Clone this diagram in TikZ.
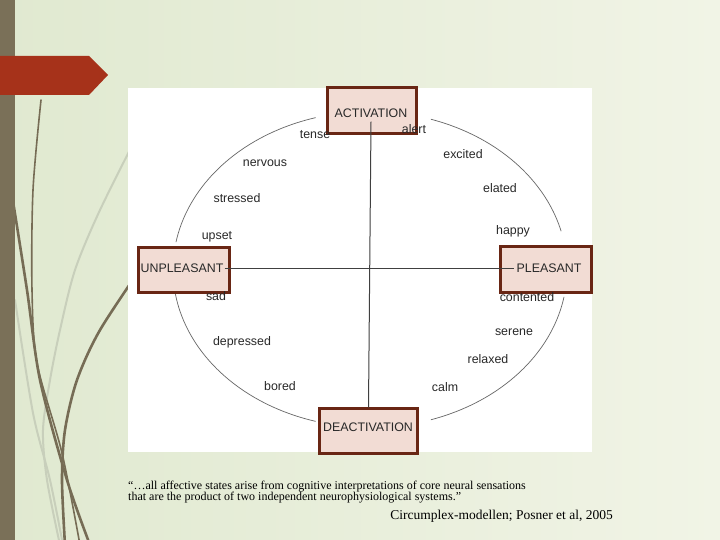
\documentclass[tikz,border=0pt]{standalone}
\usepackage{fontspec}
\setmainfont{Liberation Serif}
\setsansfont{Liberation Sans}
\definecolor{bgL}{RGB}{224,233,208}
\definecolor{bgR}{RGB}{241,244,230}
\definecolor{barc}{RGB}{122,112,88}
\definecolor{bannerc}{RGB}{166,50,26}
\definecolor{grass}{RGB}{118,108,85}
\definecolor{grasslight}{RGB}{200,207,187}
\definecolor{boxfill}{RGB}{242,220,212}
\definecolor{boxline}{RGB}{105,38,20}
\definecolor{txt}{RGB}{40,40,40}
\begin{document}
\begin{tikzpicture}[x=1pt,y=-1pt,
  catbox/.style={draw=boxline,line width=2.1pt,fill=boxfill,inner sep=0pt},
  mood/.style={font=\sffamily\fontsize{12.4}{14}\selectfont,text=txt,inner sep=0pt},
  axisline/.style={draw=black!75,line width=1pt},
  circ/.style={draw=black!60,line width=0.7pt},
  grassline/.style={draw=grass,line width=#1,line cap=round},
  grasssoft/.style={draw=grasslight,line width=#1,line cap=round},
  quote/.style={font=\fontsize{12}{13}\selectfont,text=black,inner sep=0pt,anchor=base west},
]
\useasboundingbox (0,0) rectangle (720,540);
\shade[left color=bgL,right color=bgR] (0,0) rectangle (720,540);
% decorative grass
\draw[grasssoft=2pt] plot[smooth] coordinates {(140,130) (100,210) (75,270) (60,330) (50,380) (43,430) (47,480) (60,545)};
\draw[grasssoft=2pt] plot[smooth] coordinates {(15,300) (33,413) (50,480) (63,545)};
\draw[grassline=1.6pt] plot[smooth] coordinates {(41,100) (33,190) (32,290) (37,363) (62,453) (80,545)};
\draw[grassline=2.6pt] plot[smooth] coordinates {(12,195) (27,290) (40,380) (67,480) (90,545)};
\draw[grassline=2.6pt] plot[smooth] coordinates {(145,262) (100,330) (77,380) (65,430) (62,480) (65,545)};
% left bar and banner
\fill[barc] (0,0) rectangle (15,540);
\fill[bannerc] (0,56) -- (89,56) -- (108,75) -- (89,95) -- (0,95) -- cycle;
% picture area
\fill[white] (128,88) rectangle (592,452);
% circumplex
\draw[circ] plot[domain=106:170,samples=40] ({370+197*cos(\x)},{269.5-158*sin(\x)});
\draw[circ] plot[domain=189:254,samples=40] ({370+197*cos(\x)},{269.5-158*sin(\x)});
\draw[circ] plot[domain=14:72,samples=40] ({370+197*cos(\x)},{269.5-158*sin(\x)});
\draw[circ] plot[domain=-72:-10,samples=40] ({370+197*cos(\x)},{269.5-158*sin(\x)});
% boxes
\node[catbox,minimum width=89pt,minimum height=46pt] (act) at (372,110.5) {};
\node[catbox,minimum width=91pt,minimum height=45pt] (unp) at (184,270) {};
\node[catbox,minimum width=91pt,minimum height=46pt] (pls) at (546,269.5) {};
\node[catbox,minimum width=98pt,minimum height=45pt] (dea) at (368.5,431) {};
% box labels
\node[mood] (actl) at (371,113) {ACTIVATION};
\node[mood] (unpl) at (182,268) {UNPLEASANT};
\node[mood] (plsl) at (549,268) {PLEASANT};
\node[mood] (deal) at (368,427) {DEACTIVATION};
% axes
\draw[axisline] ([yshift=-4pt]actl.south) -- (dea.north);
\draw[axisline] ([xshift=1pt]unpl.east) -- ([xshift=-2pt]plsl.west);
% mood words
\node[mood] (tense) at (315,135) {tense};
\node[mood] (alert) at (414,129) {alert};
\node[mood] (nervous) at (265,163) {nervous};
\node[mood] (excited) at (463,154) {excited};
\node[mood] (stressed) at (237,198) {stressed};
\node[mood] (elated) at (500,188) {elated};
\node[mood] (upset) at (217,237) {upset};
\node[mood] (happy) at (513,231) {happy};
\node[mood] (sad) at (216,296) {sad};
\node[mood] (contented) at (527,297) {contented};
\node[mood] (depressed) at (242,342) {depressed};
\node[mood] (serene) at (514,332) {serene};
\node[mood] (relaxed) at (488,359) {relaxed};
\node[mood] (bored) at (280,386) {bored};
\node[mood] (calm) at (445,387) {calm};
% quotation
\node[quote] (q1) at (128,489) {“…all affective states arise from cognitive interpretations of core neural sensations};
\node[quote] (q2) at (128,500.5) {that are the product of two independent neurophysiological systems.”};
\node[font=\fontsize{13.5}{16}\selectfont,inner sep=0pt,anchor=base east] (cite) at (613,519) {Circumplex-modellen; Posner et al, 2005};
\end{tikzpicture}
\end{document}
